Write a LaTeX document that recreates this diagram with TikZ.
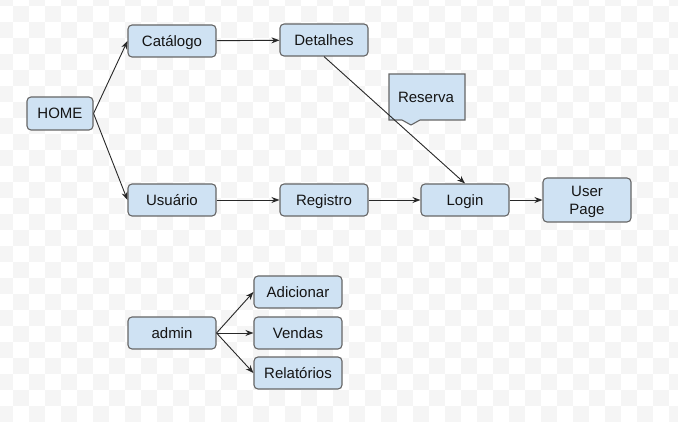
\documentclass[tikz,border=0pt]{standalone}
\usepackage{fontspec}
\setmainfont{Liberation Sans}
\usetikzlibrary{arrows.meta}
\definecolor{boxfill}{RGB}{207,226,243}
\definecolor{boxline}{RGB}{102,102,102}
\definecolor{edgecol}{RGB}{40,40,40}
\definecolor{checker}{RGB}{245,245,245}
\definecolor{txt}{RGB}{20,20,20}
\tikzset{
  box/.style={draw=boxline, fill=boxfill, rounded corners=4pt, line width=1.1pt,
    inner sep=0pt, minimum width=88pt, minimum height=32pt, text=txt,
    text height=15pt, text depth=4pt,
    font=\fontsize{15}{18}\selectfont, align=center},
  conn/.style={draw=edgecol, line width=0.9pt, -{Stealth[length=8pt,width=6pt]}},
}
\begin{document}
\begin{tikzpicture}[x=1pt,y=-1pt]
\useasboundingbox (0,0) rectangle (678,422);
\begin{scope}
\clip (0,0) rectangle (678,422);
\fill[white] (0,0) rectangle (678,422);
\foreach \r in {0,...,27}{
  \foreach \k in {0,...,42}{
    \pgfmathtruncatemacro\s{mod(\k+\r,2)}
    \ifnum\s=0
      \fill[checker] ({-3+16*\k},{-10+16*\r}) rectangle ++(16,16);
    \fi
  }
}
\end{scope}

\node[box, minimum width=66pt, minimum height=33pt] (home) at (60,113.5) {HOME};
\node[box] (cat) at (172,41) {Catálogo};
\node[box] (det) at (324,40) {Detalhes};
\node[box] (usu) at (172,200) {Usuário};
\node[box] (reg) at (324,200) {Registro};
\node[box] (login) at (465,200) {Login};
\node[box, minimum height=44pt, text height=33pt, text depth=4pt] (user) at (587,200) {User\\Page};
\node[box] (admin) at (172,333) {admin};
\node[box] (adic) at (298,292) {Adicionar};
\node[box] (vend) at (298,333) {Vendas};
\node[box] (rel) at (298,373) {Relatórios};

\path[draw=boxline, fill=boxfill, line width=1.1pt, line join=miter]
  (389,74) -- (465,74) -- (465,120) -- (420,120) -- (411,125) -- (402,120) -- (389,120) -- cycle;
\node[text=txt, font=\fontsize{15}{18}\selectfont, inner sep=0pt,
  text height=15pt, text depth=4pt] (res) at (426,97.5) {Reserva};

\draw[conn] (home.east) -- (cat.west);
\draw[conn] (home.east) -- (usu.west);
\draw[conn] (cat) -- (det);
\draw[conn] (det.south) -- (login.north);
\draw[conn] (usu) -- (reg);
\draw[conn] (reg) -- (login);
\draw[conn] (login) -- (user);
\draw[conn] (admin.east) -- (adic.west);
\draw[conn] (admin.east) -- (vend.west);
\draw[conn] (admin.east) -- (rel.west);
\end{tikzpicture}
\end{document}
